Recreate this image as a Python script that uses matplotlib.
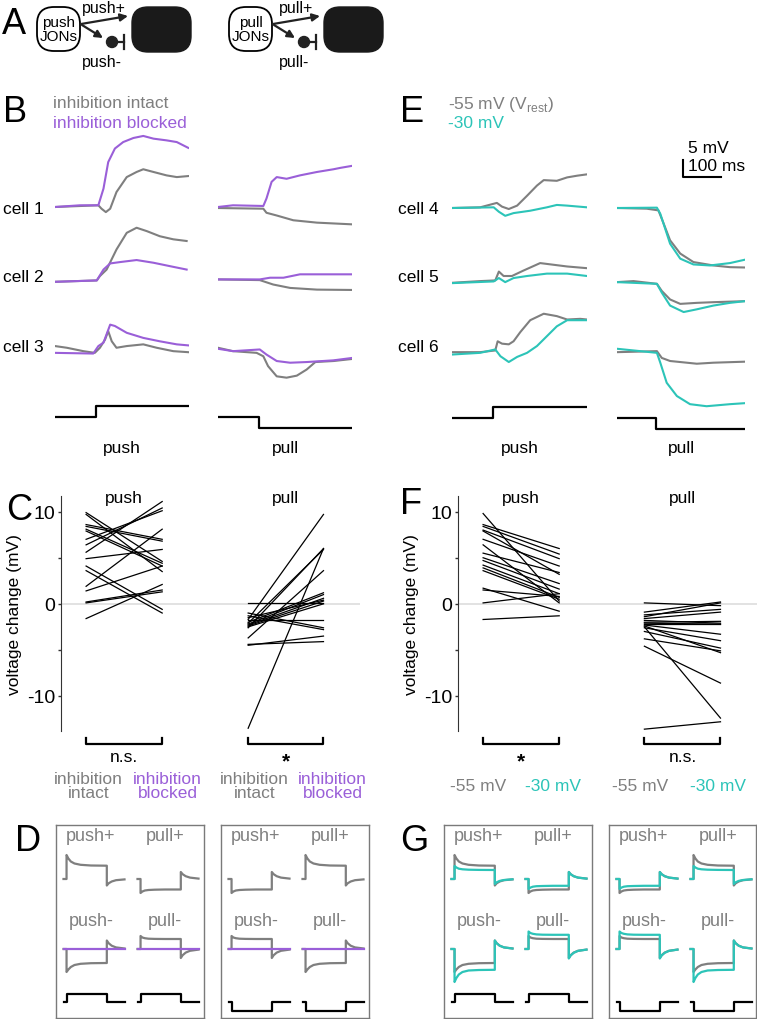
import numpy as np
import matplotlib
matplotlib.use('Agg')
import matplotlib.pyplot as plt
from matplotlib.patches import FancyBboxPatch, Circle

W, H = 757, 1020
plt.rcParams['font.family'] = ['Liberation Sans', 'DejaVu Sans']
plt.rcParams['axes.unicode_minus'] = False
plt.rcParams['mathtext.fontset'] = 'custom'
plt.rcParams['mathtext.rm'] = 'Liberation Sans'

GRAY = '#7f7f7f'
PURPLE = '#9a5fd8'
TEAL = '#2cc4b8'

# ---------------- data ----------------
# example traces: (time ms, voltage mV re. baseline), cells 1-3 / 4-6
B_PUSH_INTACT = [
    ([0, 110, 118, 129, 140, 156, 182, 207, 224, 250, 283, 309, 338],
     [0, 0.5, -0.5, -1.5, -0.5, 4.4, 8.8, 10.3, 11.1, 10.3, 9.3, 8.8, 9.1]),
    ([0, 106, 114, 131, 156, 182, 207, 233, 266, 300, 334],
     [-0.2, 0.2, 1.5, 3.4, 9.3, 14.2, 15.7, 14.7, 13.2, 12.3, 11.8]),
    ([0, 30, 72, 101, 114, 127, 135, 144, 156, 182, 224, 258, 300, 338],
     [1.5, 1.0, 0, -0.5, 1.0, 3.4, 5.9, 2.9, 1.0, 1.5, 2.0, 1.0, 0, -0.3]),
]
B_PUSH_BLOCKED = [
    ([0, 63, 110, 123, 135, 152, 173, 199, 224, 250, 283, 309, 338],
     [0, 0.5, 0.5, 5.4, 13.2, 17.2, 19.1, 20.3, 20.9, 20.1, 19.6, 19.1, 17.4]),
    ([0, 106, 123, 140, 165, 207, 250, 300, 334],
     [-0.2, 0.2, 3.4, 5.2, 5.6, 6.2, 5.4, 4.2, 3.4]),
    ([0, 97, 110, 123, 140, 152, 182, 224, 266, 309, 338],
     [-0.5, -0.7, 1.5, 2.5, 7.8, 7.4, 5.4, 3.9, 2.9, 2.0, 1.7]),
]
B_PULL_INTACT = [
    ([0, 115, 123, 149, 191, 251, 340],
     [-0.3, -0.5, -1.7, -2.5, -3.9, -4.6, -5.1]),
    ([0, 106, 140, 183, 251, 340],
     [0.5, 0.3, -1.0, -2.0, -2.5, -2.6]),
    ([0, 38, 98, 115, 127, 149, 174, 200, 225, 247, 293, 340],
     [1.0, 0, -0.5, -1.5, -4.4, -7.4, -7.8, -7.2, -5.4, -3.2, -2.9, -2.3]),
]
B_PULL_BLOCKED = [
    ([0, 38, 115, 123, 136, 149, 174, 208, 251, 293, 310, 340],
     [0, 0.5, 0.3, 2.5, 7.4, 8.8, 8.3, 9.3, 10.3, 11.1, 11.5, 12.1]),
    ([0, 106, 132, 166, 208, 293, 340],
     [0.5, 0.5, 1.0, 1.0, 2.0, 2.0, 2.0]),
    ([0, 38, 106, 123, 149, 183, 225, 293, 340],
     [0.7, 0, 0.5, -1.0, -2.9, -3.4, -3.2, -2.7, -2.0]),
]
E_PUSH_REST = [
    ([0, 71, 113, 126, 143, 164, 189, 214, 231, 264, 290, 315, 340],
     [0, 0.2, 1.5, 0.4, -0.3, 0.7, 3.6, 6.6, 8.2, 8.0, 9.0, 9.5, 9.9]),
    ([0, 71, 109, 118, 130, 151, 180, 222, 256, 290, 340],
     [-0.2, 0.3, 0.5, 3.1, 1.8, 1.8, 3.4, 5.6, 5.1, 4.6, 4.1]),
    ([0, 71, 109, 115, 126, 143, 155, 172, 197, 231, 264, 290, 323, 340],
     [0, 0, 0.5, 3.2, 2.5, 2.3, 3.2, 5.9, 9.4, 11.3, 10.6, 9.6, 9.8, 9.6]),
]
E_PUSH_DEPOL = [
    ([0, 105, 118, 134, 155, 197, 239, 264, 290, 340],
     [0, 0.2, -1.1, -2.3, -1.5, -0.8, 0.2, 0.9, 0.7, 0.2]),
    ([0, 105, 118, 134, 155, 189, 239, 290, 340],
     [-0.3, 0.2, 1.2, 0, 1.2, 1.8, 2.5, 2.5, 1.8]),
    ([0, 71, 109, 122, 143, 164, 189, 214, 239, 264, 290, 340],
     [-0.7, -0.2, 0.8, -1.2, -2.9, -1.4, -0.2, 1.8, 4.7, 7.6, 9.4, 9.4]),
]
E_PULL_REST = [
    ([0, 79, 110, 124, 141, 168, 203, 256, 300, 340],
     [0, -0.2, -0.7, -4.6, -9.5, -13.4, -15.9, -16.9, -17.4, -17.5]),
    ([0, 44, 106, 119, 141, 168, 212, 256, 340],
     [0, 0.3, -0.5, -2.6, -5.1, -6.4, -6.1, -5.9, -5.6]),
    ([0, 106, 119, 141, 212, 256, 340],
     [0, 0.3, -1.7, -2.6, -3.4, -3.1, -2.8]),
]
E_PULL_DEPOL = [
    ([0, 106, 115, 141, 168, 203, 247, 300, 340],
     [0, 0.1, -1.7, -10.5, -14.9, -16.6, -16.9, -16.2, -15.2]),
    ([0, 106, 119, 141, 177, 212, 256, 300, 340],
     [0, -0.5, -3.1, -6.9, -8.8, -8.0, -6.9, -6.1, -5.6]),
    ([0, 62, 106, 115, 132, 159, 194, 238, 300, 340],
     [1.0, 0.3, -0.2, -3.1, -9.0, -12.9, -15.3, -15.9, -15.3, -15.0]),
]
STIM_T = [0, 104, 104, 340]
PUSH_STIM = [0, 0, 1, 1]
PULL_STIM = [0, 0, -1, -1]

# paired voltage changes (mV)
C_PUSH_INTACT = [-1.6, 0.2, 0.1, 4.1, 3.6, 1.9, 1.4, 4.9, 5.6, 6.4, 7.0, 9.9, 9.7, 8.6, 8.4, 8.1, 7.9]
C_PUSH_BLOCKED = [2.1, 1.5, 1.3, -0.6, -1.0, 8.1, 4.1, 5.9, 11.1, 10.4, 10.1, 4.6, 3.5, 7.0, 6.8, 4.4, 4.1]
C_PULL_INTACT = [0.1, -1.0, -1.8, -4.4, -4.5, -2.0, -2.2, -2.3, -2.4, -2.5, -1.5, -13.5, -1.7, -2.1, -3.7, -1.3, -2.6]
C_PULL_BLOCKED = [0.1, -2.6, -1.8, -4.1, -3.5, 1.2, 1.0, 0.6, 0.3, 0.0, 0.4, 6.0, 9.7, 5.9, 3.6, -2.8, 6.0]
F_PUSH_REST = [9.8, 8.6, 8.4, 8.0, 7.9, 7.0, 6.4, 5.5, 5.0, 4.7, 4.2, 3.9, 3.6, 1.7, 1.5, 0.1, -1.7]
F_PUSH_DEPOL = [0.3, 6.0, 5.4, 4.9, 3.2, 4.1, 0.1, 3.4, 2.2, 1.6, 1.1, 0.7, 0.5, -0.8, 0.8, 1.1, -1.3]
F_PULL_REST = [0.1, -13.6, -2.5, -4.6, -0.9, -1.2, -1.6, -1.8, -2.0, -2.2, -2.3, -2.6, -3.0, -3.8, -2.4, -1.4, -2.1]
F_PULL_DEPOL = [-0.2, -12.8, -12.4, -8.6, 0.2, -0.6, -0.9, -2.1, -1.9, -2.2, -3.3, -4.0, -4.8, -5.1, -5.3, 0.1, -2.2]

# model responses (normalized time, amplitude in px)
MODEL_T = [0, 0.05, 0.05, 0.08, 0.12, 0.18, 0.28, 0.45, 0.71, 0.71, 0.74, 0.79, 0.86, 1.0]
EXC_REST = [0, 0, 24, 20.5, 17.5, 15.5, 14.2, 13.5, 13.3, -6.5, -4.3, -2.5, -1.2, -0.4]
EXC_DEPOL = [0, 0, 13, 11.5, 10.3, 9.7, 9.3, 9.1, 9.0, -5.0, -3.3, -1.9, -1.0, -0.3]
DIP_REST = [0, 0, -14, -12.5, -11.5, -11, -10.7, -10.5, -10.5, 7, 4.8, 2.8, 1.4, 0.4]
DIP_DEPOL = [0, 0, -10, -8.6, -7.7, -7.2, -7.0, -6.8, -6.8, 7, 4.8, 2.8, 1.4, 0.4]
BIGDIP_REST = [0, 0, -23, -20.5, -18, -16, -14.8, -14.2, -14, 8.5, 5.8, 3.3, 1.6, 0.5]
BIGDIP_DEPOL = [0, 0, -33, -29, -25.5, -23, -21.5, -21, -20.8, 8.5, 5.8, 3.3, 1.6, 0.5]
BUMP_REST = [0, 0, 13, 11.5, 10.8, 10.3, 10.1, 10, 10, -9, -6.2, -3.6, -1.8, -0.6]
BUMP_DEPOL = [0, 0, 17.5, 16, 15.2, 14.6, 14.3, 14.2, 14.2, -9.5, -6.5, -3.8, -1.9, -0.6]
FLAT_T = [0, 1]
FLAT_V = [0, 0]
BOX_STIM_T = [0, 0.06, 0.06, 0.71, 0.71, 1]
BOX_PUSH = [0, 0, 1, 1, 0, 0]
BOX_PULL = [0, 0, -1, -1, 0, 0]

# ---------------- layout ----------------
MV_PX = 3.4           # px per mV in example traces
CELL_OFFSETS = [0, -21.8, -42.4]
STIM_OFF = -61.8
STIM_H = 3.3

fig = plt.figure(figsize=(W / 100, H / 100), dpi=100)


def px_axes(x0, y0, x1, y1):
    return fig.add_axes([x0 / W, 1 - y1 / H, (x1 - x0) / W, (y1 - y0) / H])


def ftext(x, y, s, **kw):
    kw.setdefault('ha', 'center')
    kw.setdefault('va', 'center')
    kw.setdefault('fontsize', 12.5)
    fig.text(x / W, 1 - y / H, s, **kw)


def trace_column(x0, x1, base_px, groups, stim):
    ax = px_axes(x0, 130, x1, 440)
    ax.set_xlim(0, 340)
    ax.set_ylim(-(440 - base_px) / MV_PX, (base_px - 130) / MV_PX)
    ax.axis('off')
    for cells, color in groups:
        for off, (t, v) in zip(CELL_OFFSETS, cells):
            ax.plot(t, np.array(v) + off, color=color, lw=1.5)
    ax.plot(STIM_T, np.array(stim) * STIM_H + STIM_OFF, color='k', lw=1.6)
    return ax


def pair_panel(x0, x1, pairs, sig, labels):
    ax = px_axes(x0, 497, x1, 732)
    ax.set_xlim(-0.33, 3.6)
    ax.set_ylim(-13.8, 11.7)
    ax.axhline(0, color='#dddddd', lw=1.2, zorder=0)
    for (xa, xb), a, b in pairs:
        for va, vb in zip(a, b):
            ax.plot([xa, xb], [va, vb], color='k', lw=0.9)
    for s in ['top', 'right', 'bottom']:
        ax.spines[s].set_visible(False)
    ax.spines['left'].set_color('#333333')
    ax.set_xticks([])
    ax.set_yticks([-10, 0, 10])
    ax.set_yticks([-5, 5], minor=True)
    ax.tick_params(axis='y', which='both', length=2.5, width=1, color='#333333',
                   labelsize=14, pad=1.5)
    for ((xa, xb), _, _), title, mark in zip(pairs, ['push', 'pull'], sig):
        ax.text((xa + xb) / 2, 11.5, title, ha='center', va='center', fontsize=12.5)
        ax.plot([xa, xa, xb, xb], [-14.6, -15.2, -15.2, -14.6], color='k', lw=1.6,
                clip_on=False)
        if mark == '*':
            ax.text((xa + xb) / 2, -17.0, mark, ha='center', va='center',
                    fontsize=15, fontweight='bold')
        else:
            ax.text((xa + xb) / 2, -16.6, mark, ha='center', va='center',
                    fontsize=12.5)
    for x, s, c in labels:
        ax.text(x, -19.7, s, ha='center', va='center', color=c, fontsize=12.5,
                linespacing=0.95)
    ax.set_ylabel('voltage change (mV)', fontsize=12.5, labelpad=4)
    return ax


def box_panel(x0, x1, stim, cells):
    ax = px_axes(x0, 826, x1, 1019)
    ax.set_xlim(0, x1 - x0)
    ax.set_ylim(193, 0)
    ax.set_xticks([])
    ax.set_yticks([])
    for s in ax.spines.values():
        s.set_color('#7a7a7a')
        s.set_linewidth(1)
    cols = [(7.5, 68.5), (81.5, 142.5)]
    rows = [(11, 54), (96, 124)]
    for label, ci, ri, shapes in cells:
        a, b = cols[ci]
        ly, base = rows[ri]
        ax.text((a + b) / 2 - 3, ly, label, ha='center', va='center',
                color='#808080', fontsize=13)
        for t, v, color in shapes:
            ax.plot(a + np.array(t) * (b - a), base - np.array(v), color=color, lw=1.6)
    for a, b in cols:
        ax.plot(a + np.array(BOX_STIM_T) * (b - a), 177 - np.array(stim) * 8.5,
                color='k', lw=1.6)
    return ax


# ---------------- panel A ----------------
axA = px_axes(0, 0, W, 80)
axA.set_xlim(0, W)
axA.set_ylim(80, 0)
axA.axis('off')
for dx, name, plus, minus in [(0, 'push\nJONs', 'push+', 'push-'),
                              (192, 'pull\nJONs', 'pull+', 'pull-')]:
    axA.add_patch(FancyBboxPatch((37 + dx, 8), 43, 44,
                                 boxstyle='round,pad=0,rounding_size=17',
                                 fc='white', ec='k', lw=1.3))
    axA.text(58.5 + dx, 30, name, ha='center', va='center', fontsize=11,
             linespacing=0.95)
    axA.add_patch(FancyBboxPatch((132 + dx, 8), 59, 45,
                                 boxstyle='round,pad=0,rounding_size=16',
                                 fc='#1a1a1a', ec='#1a1a1a', lw=1))
    axA.annotate('', xy=(128 + dx, 17), xytext=(81 + dx, 25),
                 arrowprops=dict(arrowstyle='-|>', color='#222222', lw=1.6,
                                 mutation_scale=11, shrinkA=0, shrinkB=0))
    axA.annotate('', xy=(103 + dx, 39), xytext=(82 + dx, 26),
                 arrowprops=dict(arrowstyle='-|>', color='#222222', lw=1.6,
                                 mutation_scale=11, shrinkA=0, shrinkB=0))
    axA.add_patch(Circle((112 + dx, 43), 5.5, color='#222222'))
    axA.plot([112 + dx, 124 + dx], [43, 43], color='#222222', lw=1.6)
    axA.plot([124 + dx, 124 + dx], [36, 50], color='#222222', lw=1.6)
    axA.text(104 + dx, 9, plus, ha='center', va='center', fontsize=11.5)
    axA.text(102 + dx, 63, minus, ha='center', va='center', fontsize=11.5)

# ---------------- panels B and E ----------------
trace_column(55, 189, 208, [(B_PUSH_INTACT, GRAY), (B_PUSH_BLOCKED, PURPLE)], PUSH_STIM)
trace_column(218, 352, 208, [(B_PULL_INTACT, GRAY), (B_PULL_BLOCKED, PURPLE)], PULL_STIM)
trace_column(452, 587, 209, [(E_PUSH_REST, GRAY), (E_PUSH_DEPOL, TEAL)], PUSH_STIM)
axEp = trace_column(617, 745, 209, [(E_PULL_REST, GRAY), (E_PULL_DEPOL, TEAL)], PULL_STIM)
axEp.plot([175, 175, 275], [14.1, 9.1, 9.1], color='k', lw=1.5, clip_on=False)
axEp.text(189, 17.9, '5 mV', ha='left', va='center', fontsize=12.5)
axEp.text(188, 12.4, '100 ms', ha='left', va='center', fontsize=12.5)

ftext(53, 103, 'inhibition intact', ha='left', color=GRAY)
ftext(53, 123, 'inhibition blocked', ha='left', color=PURPLE)
ftext(448, 105, '-55 mV (V$_{\\mathrm{rest}}$)', ha='left', color=GRAY)
ftext(448, 123, '-30 mV', ha='left', color=TEAL)
for i, y in enumerate([210, 278, 347]):
    ftext(3, y, f'cell {i + 1}', ha='left')
    ftext(398, y, f'cell {i + 4}', ha='left')
for x, s in [(122, 'push'), (285, 'pull'), (520, 'push'), (681, 'pull')]:
    ftext(x, 448, s)

# ---------------- panels C and F ----------------
pair_panel(61, 360,
           [((0, 1), C_PUSH_INTACT, C_PUSH_BLOCKED),
            ((2.13, 3.12), C_PULL_INTACT, C_PULL_BLOCKED)],
           ['n.s.', '*'],
           [(0.03, 'inhibition\nintact', GRAY), (1.07, 'inhibition\nblocked', PURPLE),
            (2.21, 'inhibition\nintact', GRAY), (3.24, 'inhibition\nblocked', PURPLE)])
pair_panel(458, 757,
           [((0, 1), F_PUSH_REST, F_PUSH_DEPOL),
            ((2.12, 3.12), F_PULL_REST, F_PULL_DEPOL)],
           ['*', 'n.s.'],
           [(-0.07, '-55 mV', GRAY), (0.92, '-30 mV', TEAL),
            (2.07, '-55 mV', GRAY), (3.09, '-30 mV', TEAL)])

# ---------------- panels D and G ----------------
flat = (FLAT_T, FLAT_V, PURPLE)
box_panel(56, 204, BOX_PUSH, [
    ('push+', 0, 0, [(MODEL_T, EXC_REST, GRAY)]),
    ('pull+', 1, 0, [(MODEL_T, DIP_REST, GRAY)]),
    ('push-', 0, 1, [(MODEL_T, BIGDIP_REST, GRAY), flat]),
    ('pull-', 1, 1, [(MODEL_T, BUMP_REST, GRAY), flat])])
box_panel(221, 369, BOX_PULL, [
    ('push+', 0, 0, [(MODEL_T, DIP_REST, GRAY)]),
    ('pull+', 1, 0, [(MODEL_T, EXC_REST, GRAY)]),
    ('push-', 0, 1, [(MODEL_T, BUMP_REST, GRAY), flat]),
    ('pull-', 1, 1, [(MODEL_T, BIGDIP_REST, GRAY), flat])])
box_panel(444, 592, BOX_PUSH, [
    ('push+', 0, 0, [(MODEL_T, EXC_REST, GRAY), (MODEL_T, EXC_DEPOL, TEAL)]),
    ('pull+', 1, 0, [(MODEL_T, DIP_REST, GRAY), (MODEL_T, DIP_DEPOL, TEAL)]),
    ('push-', 0, 1, [(MODEL_T, BIGDIP_REST, GRAY), (MODEL_T, BIGDIP_DEPOL, TEAL)]),
    ('pull-', 1, 1, [(MODEL_T, BUMP_REST, GRAY), (MODEL_T, BUMP_DEPOL, TEAL)])])
box_panel(609, 756, BOX_PULL, [
    ('push+', 0, 0, [(MODEL_T, DIP_REST, GRAY), (MODEL_T, DIP_DEPOL, TEAL)]),
    ('pull+', 1, 0, [(MODEL_T, EXC_REST, GRAY), (MODEL_T, EXC_DEPOL, TEAL)]),
    ('push-', 0, 1, [(MODEL_T, BUMP_REST, GRAY), (MODEL_T, BUMP_DEPOL, TEAL)]),
    ('pull-', 1, 1, [(MODEL_T, BIGDIP_REST, GRAY), (MODEL_T, BIGDIP_DEPOL, TEAL)])])

# panel letters
for x, y, s in [(2, 24, 'A'), (3, 113, 'B'), (6, 510, 'C'), (15, 842, 'D'),
                (400, 112, 'E'), (400, 505, 'F'), (400, 842, 'G')]:
    ftext(x, y, s, ha='left', fontsize=26)

fig.savefig('out.png', dpi=100)
